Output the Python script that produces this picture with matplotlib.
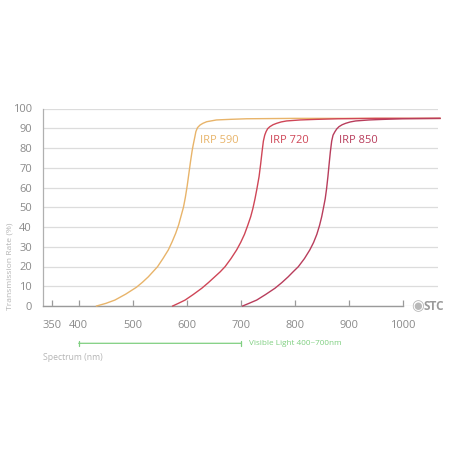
import matplotlib
matplotlib.use("Agg")
import matplotlib.pyplot as plt

plt.rcParams['font.family'] = ['Open Sans', 'DejaVu Sans']

# Data (wavelength nm, transmission %)
wl_590 = [433, 450, 467, 487, 507, 518, 529, 546, 556, 566, 573, 579.6, 585, 589.5, 594, 597.5, 601, 604, 607,
          610, 612, 615, 617, 620, 624.6, 630, 637, 655, 680, 711, 800, 900, 1000, 1069]
tr_590 = [0, 1.3, 3.0, 6, 9.5, 12, 14.8, 19.9, 24, 28.4, 32.5, 36.8, 41, 45.5, 50, 55, 61, 67, 73,
          78.5, 81.5, 85.5, 88.3, 90.3, 91.6, 92.5, 93.3, 94.2, 94.5, 94.8, 95, 95, 95, 95]

wl_720 = [574, 585, 597, 612, 628, 640, 652, 662, 671, 682, 692.5, 700, 707, 713, 718.5, 722.5, 726.5, 730,
          734, 737, 739.5, 742, 744.5, 747, 750, 754, 760, 766.6, 775, 785, 810, 840, 880, 950, 1069]
tr_720 = [0, 1.4, 3.0, 5.8, 9.0, 11.8, 14.8, 17.3, 19.9, 24, 28.4, 32.2, 36.3, 40.8, 45.2, 49.3, 54.3, 59.3,
          65.5, 72, 78, 83.5, 86.5, 88.3, 89.8, 90.8, 91.8, 92.5, 93.2, 93.7, 94.2, 94.5, 94.8, 95, 95]

wl_850 = [703.6, 715, 729.6, 746, 763.5, 776, 788, 797, 806.7, 818, 828, 835, 841, 846, 850, 853, 856.5, 859,
          861.5, 863.8, 866, 868.5, 871, 874.6, 878, 882, 888, 894.4, 903, 913, 937.6, 965, 1000, 1069]
tr_850 = [0, 1.3, 3.0, 5.8, 9.0, 11.8, 14.8, 17.3, 19.9, 24, 28.4, 32.2, 36.3, 40.8, 45.2, 49.3, 54.3, 59.3,
          65.5, 72, 78, 83.5, 86.5, 88.3, 89.7, 90.8, 91.8, 92.5, 93.2, 93.7, 94.2, 94.5, 94.8, 95]

series_names = ['IRP 590', 'IRP 720', 'IRP 850']
label_pos_x = [625, 754, 882]
label_pos_y = 83.7

x_ticks = [350, 400, 500, 600, 700, 800, 900, 1000]
y_ticks = [0, 10, 20, 30, 40, 50, 60, 70, 80, 90, 100]
visible_range = [400, 700]

colors = ['#e8b46a', '#cf4657', '#b83d5c']

W = H = 455
fig = plt.figure(figsize=(4.55, 4.55), dpi=100)
fig.patch.set_facecolor('white')
ax = fig.add_axes([43 / W, (H - 306) / H, (438 - 43) / W, (306 - 108.5) / H])

x0 = 400 + (43 - 78.7) / 0.54
x1 = 400 + (438 - 78.7) / 0.54
ax.set_xlim(x0, x1)
ax.set_ylim(0, 100)

for wl, tr, c in zip([wl_590, wl_720, wl_850], [tr_590, tr_720, tr_850], colors):
    ax.plot(wl, tr, color=c, lw=1.0, clip_on=False, zorder=3,
            solid_joinstyle='round', antialiased=True)

for name, lx, c in zip(series_names, label_pos_x, colors):
    ax.text(lx, label_pos_y, name, color=c, fontsize=8, ha='left', va='center')

ax.set_yticks(y_ticks)
ax.set_xticks(x_ticks)
ax.set_xticklabels([str(t) for t in x_ticks])
ax.grid(axis='y', color='#dcdcdc', lw=0.9)
ax.set_axisbelow(True)
ax.tick_params(axis='y', length=0, pad=8, labelsize=8, labelcolor='#8a8a8a')
ax.tick_params(axis='x', direction='in', length=4, width=0.9, color='#9a9a9a',
               pad=10, labelsize=8, labelcolor='#8a8a8a')
for s in ['top', 'right']:
    ax.spines[s].set_visible(False)
ax.spines['left'].set_color('#b0b0b0')
ax.spines['left'].set_linewidth(0.9)
ax.spines['bottom'].set_color('#9a9a9a')
ax.spines['bottom'].set_linewidth(1.0)
ax.spines['bottom'].set_bounds(x0, 1000)

# visible light bracket
green = '#7fcf80'
yb = -(343.3 - 306) / 1.975
ax.annotate('', xy=(visible_range[0], yb), xytext=(visible_range[1], yb),
            xycoords='data', annotation_clip=False,
            arrowprops=dict(arrowstyle='|-|', color=green, lw=0.9,
                            mutation_scale=2, shrinkA=0, shrinkB=0))
ax.text(715, yb, 'Visible Light 400~700nm', color=green, fontsize=5.9,
        ha='left', va='center', clip_on=False)

fig.text(43 / W, 1 - 357.7 / H, 'Spectrum (nm)', color='#b5b5b5', fontsize=6.2,
         ha='left', va='center')
fig.text(10 / W, 1 - 266 / H, 'Transmission Rate (%)', color='#b5b5b5', fontsize=6.1,
         rotation=90, ha='center', va='center')

# logo
fig.text(417.5 / W, 1 - 306 / H, '◉', color='#b8b8b8', fontsize=10.5,
         ha='center', va='center', family=['DejaVu Sans'])
fig.text(423 / W, 1 - 306 / H, 'STC', color='#9a9a9a', fontsize=8.5,
         fontweight='bold', ha='left', va='center')

fig.savefig('out.png', dpi=100, facecolor='white')
